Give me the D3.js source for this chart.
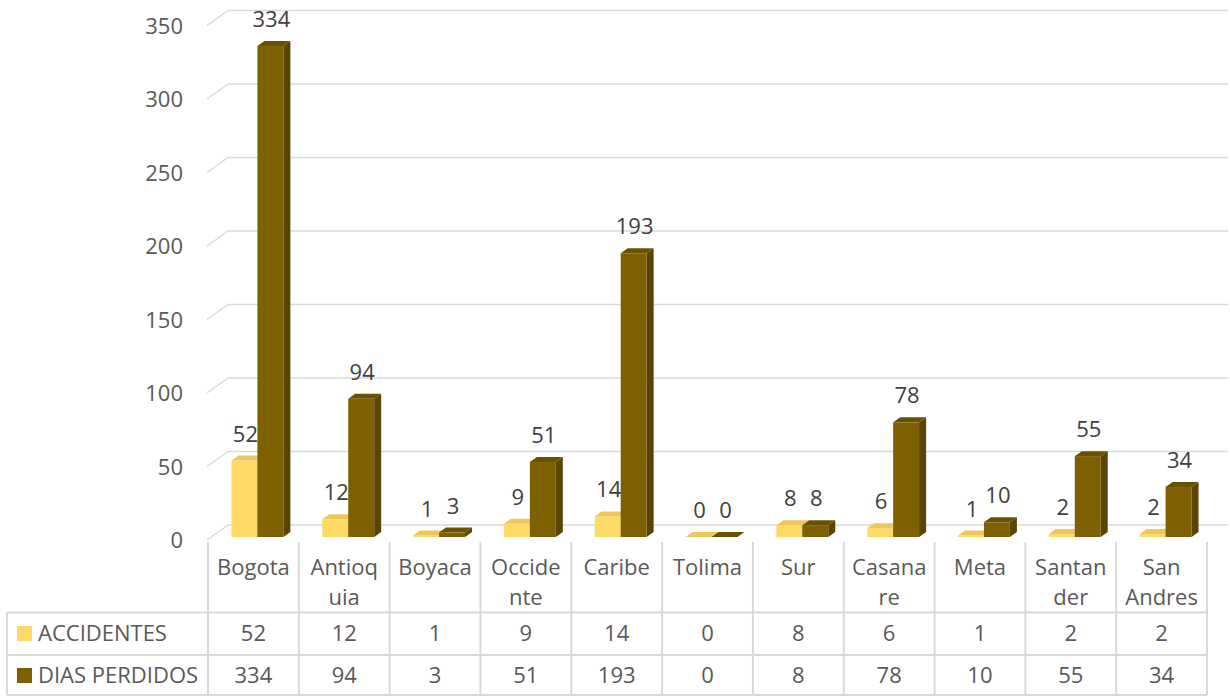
<!DOCTYPE html>
<html>
<head>
<meta charset="utf-8">
<script src="https://cdn.jsdelivr.net/npm/d3@7"></script>
<style>
  html, body { margin: 0; padding: 0; background: #ffffff; }
  svg { display: block; font-family: "Open Sans", "Noto Sans", sans-serif; }
</style>
</head>
<body>
<svg id="chart" width="1230" height="696"></svg>
<script>
// ---- data ----
const categories = ["Bogota", "Antioquia", "Boyaca", "Occidente", "Caribe", "Tolima", "Sur", "Casanare", "Meta", "Santander", "San Andres"];
const categoryLines = [["Bogota"], ["Antioq", "uia"], ["Boyaca"], ["Occide", "nte"], ["Caribe"], ["Tolima"], ["Sur"], ["Casana", "re"], ["Meta"], ["Santan", "der"], ["San", "Andres"]];
const seriesNames = ["ACCIDENTES", "DIAS PERDIDOS"];
const accidentes = [52, 12, 1, 9, 14, 0, 8, 6, 1, 2, 2];
const diasPerdidos = [334, 94, 3, 51, 193, 0, 8, 78, 10, 55, 34];
const yTicks = [0, 50, 100, 150, 200, 250, 300, 350];

// ---- styling ----
const seriesColors = [
  { front: "#FFD966", side: "#D9B24A", top: "#EDC75C" },
  { front: "#7F6000", side: "#5A4400", top: "#6A5100" }
];
const textColor = "#595959";
const gridColor = "#D9D9D9";
const fs = 22;

const svg = d3.select("#chart");

// geometry
const tableLeft = 7, colStart = 208, colEnd = 1207;
const wallDX = 21, wallDY = 15;     // depth of back wall
const barOffX = 4, barOffY = 3;     // bars set back from front plane
const barDX = 7, barDY = 5;         // bar depth
const y = d3.scaleLinear().domain([0, 350]).range([540, 540 - 350 * 1.47]); // front plane
const x = d3.scaleBand().domain(categories).range([colStart, colEnd]).paddingInner(0).paddingOuter(0);
const bw = x.bandwidth() / 3.5;

// back wall gridlines + left diagonal
const grid = svg.append("g");
yTicks.forEach(t => {
  const yb = y(t) - wallDY;
  grid.append("line").attr("x1", colStart - 1 + wallDX).attr("x2", colEnd + wallDX)
    .attr("y1", yb).attr("y2", yb).attr("stroke", gridColor).attr("stroke-width", 1.5);
  grid.append("line").attr("x1", colStart - 1).attr("y1", y(t))
    .attr("x2", colStart - 1 + wallDX).attr("y2", yb).attr("stroke", gridColor).attr("stroke-width", 1.5);
});

// y tick labels
svg.append("g").selectAll("text").data(yTicks).join("text")
  .attr("x", 183).attr("y", d => y(d) + 2.5)
  .attr("text-anchor", "end").attr("dominant-baseline", "middle")
  .attr("font-size", fs).attr("fill", textColor)
  .text(d => d);

// bars
const series = [accidentes, diasPerdidos];
const barsG = svg.append("g");
categories.forEach((c, i) => {
  series.forEach((vals, s) => {
    const v = vals[i];
    const col = seriesColors[s];
    const x0 = x(c) + 0.75 * bw + barOffX + s * bw;
    const x1 = x0 + bw;
    const yBase = y(0) - barOffY;
    const yTop = y(v) - barOffY;
    const g = barsG.append("g");
    g.append("polygon")
      .attr("points", [[x1, yTop], [x1 + barDX, yTop - barDY], [x1 + barDX, yBase - barDY], [x1, yBase]].map(p => p.join(",")).join(" "))
      .attr("fill", col.side);
    if (yBase - yTop > 0) {
      g.append("rect").attr("x", x0).attr("y", yTop).attr("width", bw).attr("height", yBase - yTop).attr("fill", col.front);
    }
    g.append("polygon")
      .attr("points", [[x0, yTop], [x0 + barDX, yTop - barDY], [x1 + barDX, yTop - barDY], [x1, yTop]].map(p => p.join(",")).join(" "))
      .attr("fill", col.top);
  });
});

// data labels
categories.forEach((c, i) => {
  series.forEach((vals, s) => {
    const v = vals[i];
    const x0 = x(c) + 0.75 * bw + barOffX + s * bw;
    svg.append("text")
      .attr("x", x0 + bw / 2 + 1).attr("y", y(v) - barOffY - 19)
      .attr("text-anchor", "middle").attr("font-size", fs).attr("fill", "#404040")
      .text(v);
  });
});

// data table
const tbl = svg.append("g");
const rowTop = 612.5, rowMid = 655, rowBot = 695;
[rowTop, rowMid, rowBot].forEach(yy => {
  tbl.append("line").attr("x1", tableLeft).attr("x2", colEnd).attr("y1", yy).attr("y2", yy)
    .attr("stroke", gridColor).attr("stroke-width", 2);
});
tbl.append("line").attr("x1", tableLeft).attr("x2", tableLeft).attr("y1", rowTop).attr("y2", rowBot)
  .attr("stroke", gridColor).attr("stroke-width", 2);
categories.concat([null]).forEach((c) => {
  const xx = c === null ? colEnd : x(c);
  tbl.append("line").attr("x1", xx).attr("x2", xx).attr("y1", 542).attr("y2", rowBot)
    .attr("stroke", gridColor).attr("stroke-width", 2);
});

// category headers
categories.forEach((c, i) => {
  const cx = x(c) + x.bandwidth() / 2;
  categoryLines[i].forEach((ln, k) => {
    tbl.append("text").attr("x", cx).attr("y", 575 + k * 30)
      .attr("text-anchor", "middle").attr("font-size", fs).attr("fill", textColor).text(ln);
  });
});

// rows
const rowBaselines = [641, 683];
series.forEach((vals, s) => {
  tbl.append("rect").attr("x", 17).attr("y", rowBaselines[s] - 15).attr("width", 15).attr("height", 15)
    .attr("fill", seriesColors[s].front);
  tbl.append("text").attr("x", 38).attr("y", rowBaselines[s])
    .attr("font-size", fs).attr("fill", textColor).text(seriesNames[s]);
  vals.forEach((v, i) => {
    tbl.append("text").attr("x", x(categories[i]) + x.bandwidth() / 2).attr("y", rowBaselines[s])
      .attr("text-anchor", "middle").attr("font-size", fs).attr("fill", textColor).text(v);
  });
});
</script>
</body>
</html>
